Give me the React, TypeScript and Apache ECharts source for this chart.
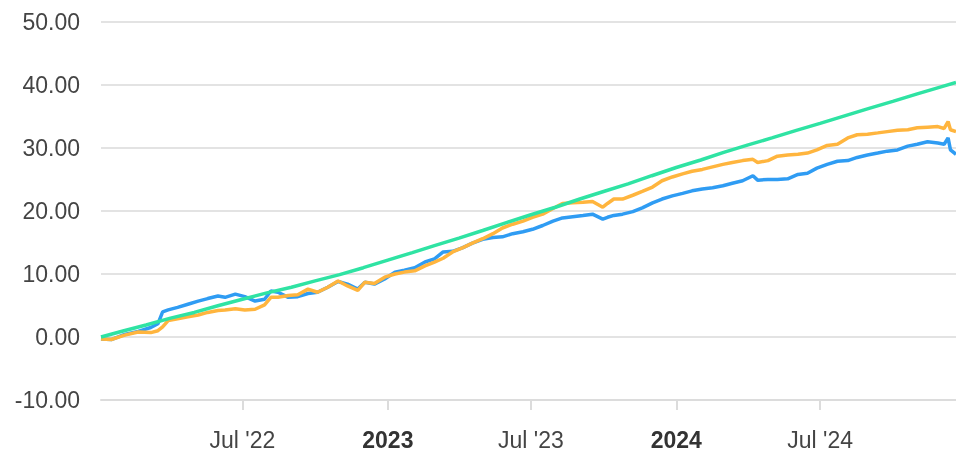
import React, { useEffect, useRef } from "react";
import * as echarts from "echarts";

const DATES = [
  "2022-01-03","2022-01-16","2022-02-02","2022-02-19","2022-03-07","2022-03-16","2022-03-22","2022-03-29",
  "2022-04-10","2022-04-23","2022-05-06","2022-05-18","2022-05-31","2022-06-09","2022-06-22","2022-07-04",
  "2022-07-17","2022-07-29","2022-08-06","2022-08-15","2022-08-28","2022-09-09","2022-09-22","2022-10-04",
  "2022-10-17","2022-10-30","2022-11-11","2022-11-24","2022-12-03","2022-12-15","2022-12-28","2023-01-10",
  "2023-01-22","2023-02-04","2023-02-17","2023-03-01","2023-03-12","2023-03-24","2023-04-06","2023-04-18",
  "2023-05-01","2023-05-14","2023-05-26","2023-06-08","2023-06-21","2023-07-03","2023-07-16","2023-07-29",
  "2023-08-10","2023-08-23","2023-09-05","2023-09-17","2023-09-30","2023-10-06","2023-10-14","2023-10-25",
  "2023-11-07","2023-11-19","2023-12-02","2023-12-14","2023-12-27","2024-01-09","2024-01-21","2024-02-03",
  "2024-02-16","2024-02-29","2024-03-12","2024-03-25","2024-04-07","2024-04-13","2024-04-26","2024-05-08",
  "2024-05-21","2024-06-03","2024-06-15","2024-06-27","2024-07-10","2024-07-23","2024-08-05","2024-08-17",
  "2024-08-30","2024-09-12","2024-09-24","2024-10-07","2024-10-20","2024-11-01","2024-11-14","2024-11-27",
  "2024-12-05","2024-12-10","2024-12-13","2024-12-20",
];

const SERIES_BLUE = [
  -0.3,-0.4,0.4,0.9,1.5,2.1,4.0,4.3,
  4.7,5.2,5.7,6.1,6.5,6.3,6.8,6.4,
  5.7,6.0,7.3,7.1,6.3,6.4,6.9,7.1,
  7.9,8.8,8.4,7.6,8.7,8.4,9.2,10.3,
  10.6,11.0,11.9,12.4,13.5,13.6,14.2,14.9,
  15.5,15.8,15.9,16.4,16.7,17.1,17.7,18.4,
  18.9,19.1,19.3,19.5,18.7,19.0,19.3,19.5,
  19.9,20.5,21.3,21.9,22.4,22.8,23.2,23.5,
  23.7,24.0,24.4,24.8,25.6,24.9,25.0,25.0,
  25.1,25.8,26.0,26.8,27.4,27.9,28.0,28.5,
  28.9,29.2,29.5,29.7,30.3,30.6,31.0,30.8,
  30.6,31.6,29.7,29.0,
];

const SERIES_ORANGE = [
  -0.3,-0.4,0.3,0.8,0.7,1.0,1.6,2.6,
  2.9,3.2,3.5,3.9,4.2,4.3,4.5,4.3,
  4.4,5.1,6.3,6.3,6.6,6.7,7.6,7.1,
  7.9,8.9,8.1,7.4,8.7,8.5,9.5,10.0,
  10.3,10.5,11.3,11.9,12.5,13.5,14.2,14.9,
  15.6,16.4,17.3,17.9,18.4,19.0,19.5,20.4,
  21.2,21.3,21.4,21.5,20.6,21.2,21.9,21.9,
  22.5,23.1,23.8,24.8,25.4,25.9,26.3,26.6,
  27.0,27.4,27.7,28.0,28.2,27.7,28.0,28.7,
  28.9,29.0,29.2,29.7,30.4,30.6,31.6,32.1,
  32.2,32.4,32.6,32.8,32.9,33.2,33.3,33.4,
  33.1,34.2,32.9,32.6,
];

const GREEN_DATES = [
  "2022-01-03","2022-02-01","2022-03-01","2022-04-01","2022-05-01","2022-06-01","2022-07-01","2022-08-01",
  "2022-09-01","2022-10-01","2022-11-01","2022-12-01","2023-01-01","2023-02-01","2023-03-01","2023-04-01",
  "2023-05-01","2023-06-01","2023-07-01","2023-08-01","2023-09-01","2023-10-01","2023-11-01","2023-12-01",
  "2024-01-01","2024-02-01","2024-03-01","2024-04-01","2024-05-01","2024-06-01","2024-07-01","2024-08-01",
  "2024-09-01","2024-10-01","2024-11-01","2024-12-01","2024-12-20",
];

const SERIES_GREEN = [
  0.0,1.0,1.9,3.0,3.9,5.0,6.0,7.0,
  7.9,8.9,9.9,11.0,12.2,13.4,14.5,15.7,
  16.9,18.2,19.4,20.6,21.9,23.1,24.3,25.6,
  26.9,28.1,29.3,30.5,31.6,32.8,33.9,35.1,
  36.3,37.4,38.6,39.7,40.4,
];

const X_MIN = "2022-01-03";
const X_MAX = "2024-12-20";
const X_TICKS = ["2022-07-01", "2023-01-01", "2023-07-01", "2024-01-01", "2024-07-01"];
const X_LABELS = ["Jul '22", "2023", "Jul '23", "2024", "Jul '24"];
const X_LABEL_BOLD = [false, true, false, true, false];

const Y_MIN = -10;
const Y_MAX = 50;
const Y_STEP = 10;

const COLOR_BLUE = "#2f9cf3";
const COLOR_ORANGE = "#ffb53e";
const COLOR_GREEN = "#2fe3a3";

function toTime(s: string): number {
  const [y, m, d] = s.split("-").map(Number);
  return new Date(y, m - 1, d).getTime();
}

export default function App() {
  const ref = useRef<HTMLDivElement>(null);

  useEffect(() => {
    if (!ref.current) return;
    const chart = echarts.init(ref.current, undefined, { renderer: "svg" });
    const tickTimes = X_TICKS.map(toTime);
    const font = "'Liberation Sans', Arial, sans-serif";

    chart.setOption({
      animation: false,
      grid: { left: 101, right: 0, top: 22, bottom: 56, containLabel: false },
      xAxis: {
        type: "value",
        min: toTime(X_MIN),
        max: toTime(X_MAX),
        axisLine: { show: true, onZero: false, lineStyle: { color: "#dcdcdc", width: 2 } },
        axisTick: {
          show: true,
          customValues: tickTimes,
          length: 10,
          lineStyle: { color: "#dcdcdc", width: 2 },
        },
        splitLine: { show: false },
        axisLabel: {
          customValues: tickTimes,
          margin: 28,
          fontSize: 23,
          fontFamily: font,
          color: "#444444",
          formatter: (value: number) => {
            const i = tickTimes.indexOf(value);
            if (i < 0) return "";
            return X_LABEL_BOLD[i] ? `{b|${X_LABELS[i]}}` : X_LABELS[i];
          },
          rich: {
            b: { fontWeight: "bold", fontSize: 23, fontFamily: font, color: "#333333" },
          },
        },
      },
      yAxis: {
        type: "value",
        min: Y_MIN,
        max: Y_MAX,
        interval: Y_STEP,
        axisLine: { show: false },
        axisTick: { show: false },
        splitLine: { show: true, lineStyle: { color: "#e3e3e3", width: 2 } },
        axisLabel: {
          margin: 21,
          fontSize: 23,
          fontFamily: font,
          color: "#444444",
          formatter: (v: number) => v.toFixed(2),
        },
      },
      series: [
        {
          type: "line",
          name: "Blue",
          data: DATES.map((d, i) => [toTime(d), SERIES_BLUE[i]]),
          showSymbol: false,
          lineStyle: { color: COLOR_BLUE, width: 3.5 },
          itemStyle: { color: COLOR_BLUE },
        },
        {
          type: "line",
          name: "Orange",
          data: DATES.map((d, i) => [toTime(d), SERIES_ORANGE[i]]),
          showSymbol: false,
          lineStyle: { color: COLOR_ORANGE, width: 3.5 },
          itemStyle: { color: COLOR_ORANGE },
        },
        {
          type: "line",
          name: "Green",
          data: GREEN_DATES.map((d, i) => [toTime(d), SERIES_GREEN[i]]),
          showSymbol: false,
          lineStyle: { color: COLOR_GREEN, width: 3.5 },
          itemStyle: { color: COLOR_GREEN },
        },
      ],
    });

    return () => chart.dispose();
  }, []);

  return (
    <div
      ref={ref}
      style={{ position: "fixed", left: 0, top: 0, width: 956, height: 456 }}
    />
  );
}
